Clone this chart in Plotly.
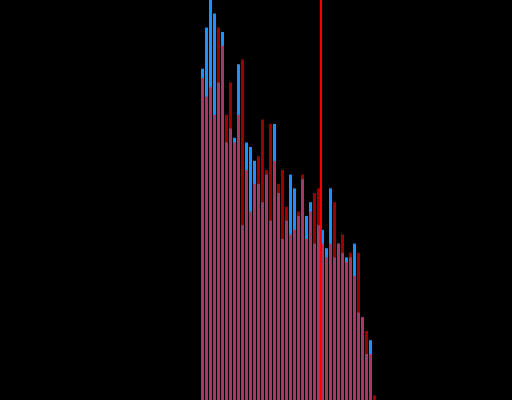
import plotly.graph_objects as go

# bin index (44 bins)
bins = list(range(44))

# counts per bin, series A (blue) and series B (red)
blue_counts = [72, 81, 87, 84, 69, 80, 56, 59, 57, 73,
               38, 56, 55, 52, 47, 43, 49, 39, 60, 45,
               35, 39, 49, 46, 40, 48, 40, 43, 34, 38,
               37, 33, 46, 31, 34, 32, 31, 31, 34, 19,
               18, 10, 13, 0]
red_counts = [70, 66, 68, 62, 81, 77, 62, 69, 56, 62,
              74, 50, 41, 47, 53, 61, 50, 60, 52, 47,
              50, 42, 36, 37, 41, 49, 35, 41, 45, 46,
              34, 31, 34, 43, 34, 36, 30, 32, 27, 32,
              18, 15, 10, 1]

marker_pos = 29.6  # vertical reference line position (in bin units)

fig = go.Figure()
fig.add_trace(go.Bar(x=bins, y=blue_counts, width=0.75,
                     marker=dict(color="#1E90FF", line=dict(width=0)),
                     opacity=1.0))
fig.add_trace(go.Bar(x=bins, y=red_counts, width=0.75,
                     marker=dict(color="#FF0000", line=dict(width=0)),
                     opacity=0.6))

fig.add_shape(type="line", xref="x", yref="paper",
              x0=marker_pos, x1=marker_pos, y0=0, y1=1,
              line=dict(color="#FF0000", width=2))

fig.update_layout(
    width=512, height=400,
    margin=dict(l=0, r=0, t=0, b=0),
    barmode="overlay",
    showlegend=False,
    hovermode=False,
    paper_bgcolor="black",
    plot_bgcolor="black",
    xaxis=dict(range=[-50.625, 77.375], visible=False, showgrid=False, zeroline=False),
    yaxis=dict(range=[0, 400 / 4.6], visible=False, showgrid=False, zeroline=False),
)

fig.write_html(
    "out.html",
    config={"displayModeBar": False},
    post_script="document.body.style.margin='0';document.body.style.background='black';"
                "document.documentElement.style.background='black';",
)
